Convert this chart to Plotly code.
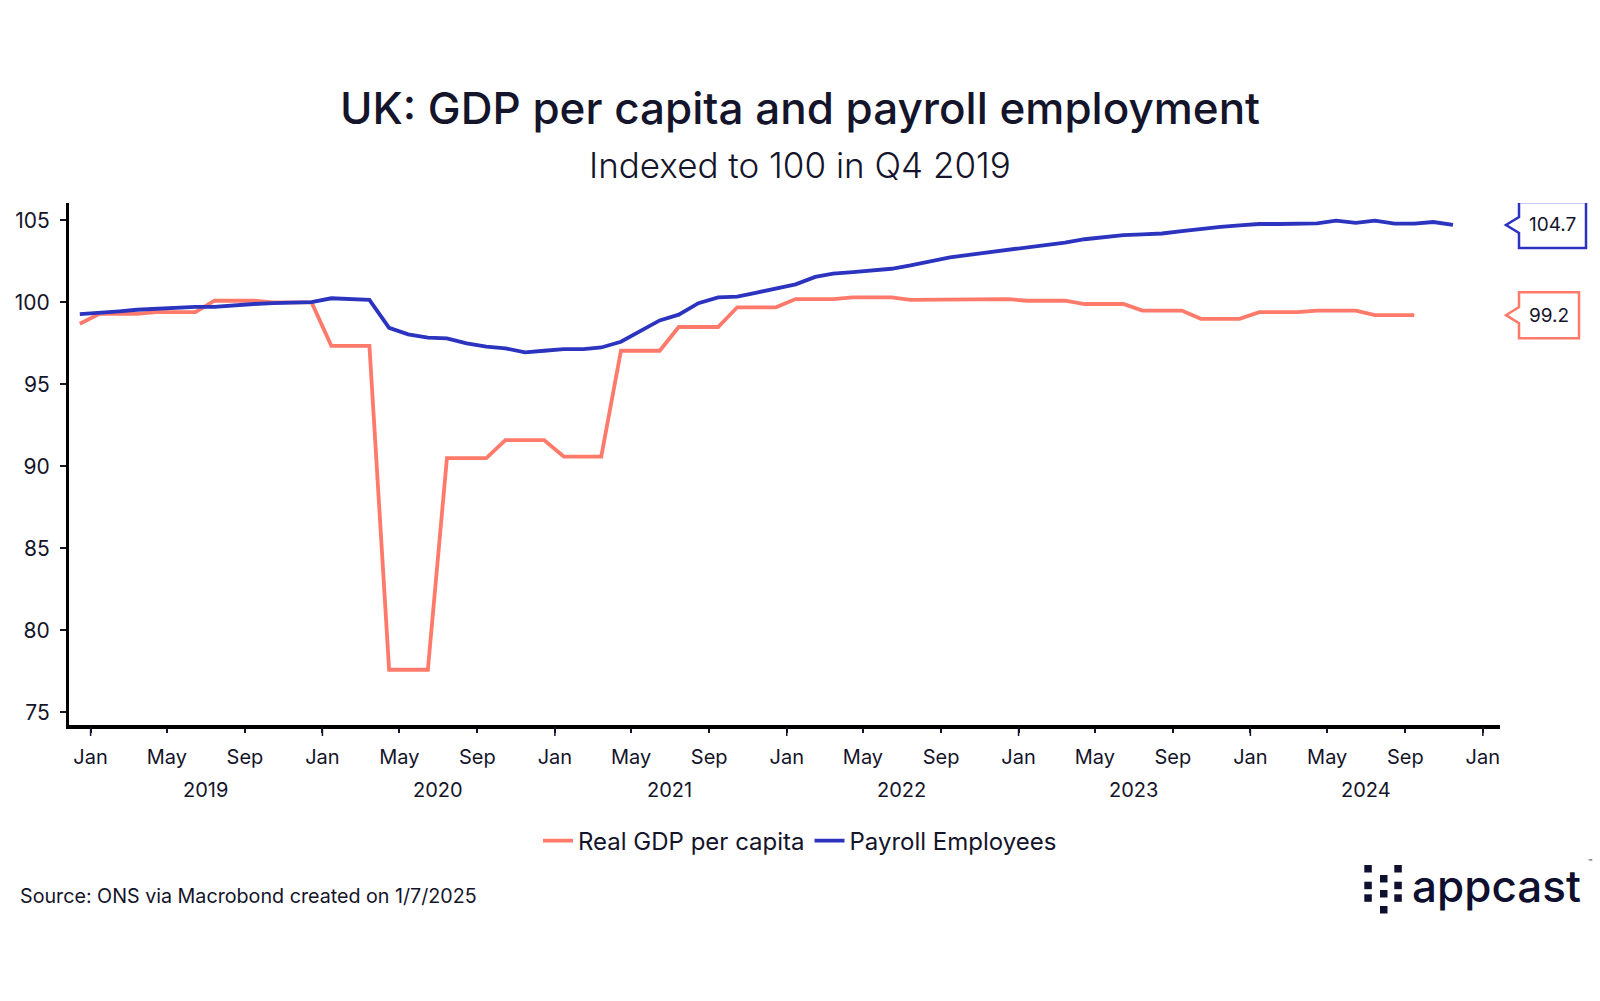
import pandas as pd
import plotly.graph_objects as go

# ---------------- data ----------------
gdp_label = "Real GDP per capita"
pay_label = "Payroll Employees"

# monthly, starting Dec 2018 (quarterly GDP values held for the three months of each quarter)
gdp_values = [
    98.7,
    99.3, 99.3, 99.3, 99.4, 99.4, 99.4, 100.1, 100.1, 100.1, 100.0, 100.0, 100.0,
    97.35, 97.35, 97.35, 77.6, 77.6, 77.6, 90.5, 90.5, 90.5, 91.6, 91.6, 91.6,
    90.6, 90.6, 90.6, 97.05, 97.05, 97.05, 98.5, 98.5, 98.5, 99.7, 99.7, 99.7,
    100.2, 100.2, 100.2, 100.3, 100.3, 100.3, 100.15, 100.15, 100.15, 100.2, 100.2, 100.2,
    100.1, 100.1, 100.1, 99.9, 99.9, 99.9, 99.5, 99.5, 99.5, 99.0, 99.0, 99.0,
    99.4, 99.4, 99.4, 99.5, 99.5, 99.5, 99.22, 99.22, 99.22,
]

payroll_values = [
    99.28,
    99.35, 99.45, 99.55, 99.62, 99.68, 99.72, 99.72, 99.82, 99.9, 99.95, 100.0, 100.02,
    100.25, 100.2, 100.15, 98.45, 98.05, 97.85, 97.8, 97.5, 97.3, 97.2, 96.95, 97.05,
    97.15, 97.15, 97.25, 97.6, 98.25, 98.9, 99.25, 99.95, 100.3, 100.35, 100.6, 100.85,
    101.1, 101.55, 101.75, 101.85, 101.95, 102.05, 102.25, 102.5, 102.75, 102.9, 103.05, 103.25,
    103.4, 103.5, 103.65, 103.85, 104.0, 104.1, 104.15, 104.2, 104.35, 104.5, 104.6, 104.7,
    104.78, 104.78, 104.8, 104.82, 104.98, 104.85, 104.98, 104.8, 104.8, 104.9, 104.72,
]

start_month = "2018-12-01"
gdp_dates = pd.date_range(start_month, periods=len(gdp_values), freq="MS") + pd.Timedelta(days=14)
payroll_dates = pd.date_range(start_month, periods=len(payroll_values), freq="MS") + pd.Timedelta(days=14)

tick_dates = pd.date_range("2019-01-01", "2025-01-01", freq="4MS")
tick_text = [d.strftime("%b") for d in tick_dates]
year_labels = ["2019", "2020", "2021", "2022", "2023", "2024"]
y_ticks = [75, 80, 85, 90, 95, 100, 105]

title_text = "UK: GDP per capita and payroll employment"
subtitle_text = "Indexed to 100 in Q4 2019"
source_text = "Source: ONS via Macrobond created on 1/7/2025"

# ---------------- style ----------------
RED = "#FF7A6A"
BLUE = "#2B33BF"
INK = "#14142B"
FONT = "Inter"

W, H = 1600, 1001
L, R, T, B = 69, 100, 203, 276
PW, PH = W - L - R, H - T - B


def px_x(px):
    return (px - L) / PW


def px_y(py):
    return (H - B - py) / PH


fig = go.Figure()
fig.add_trace(go.Scatter(x=gdp_dates, y=gdp_values, name=gdp_label, mode="lines",
                         line=dict(color=RED, width=3.8)))
fig.add_trace(go.Scatter(x=payroll_dates, y=payroll_values, name=pay_label, mode="lines",
                         line=dict(color=BLUE, width=3.8)))

fig.update_layout(
    width=W, height=H,
    margin=dict(l=L, r=R, t=T, b=B, autoexpand=False),
    paper_bgcolor="white", plot_bgcolor="white",
    font=dict(family=FONT, color=INK, size=20),
    title=dict(text=title_text, x=0.5, xref="container", xanchor="center",
               y=1 - 109 / H, yref="container", yanchor="middle",
               font=dict(family=FONT, size=44, color=INK, weight=500)),
    showlegend=True,
    legend=dict(orientation="h", xref="paper", x=px_x(800), xanchor="center",
                y=px_y(841), yanchor="middle",
                font=dict(size=24, color=INK), itemwidth=30, traceorder="normal"),
)

fig.update_xaxes(
    type="date",
    range=["2018-11-28", "2025-01-28"],
    tickvals=tick_dates, ticktext=tick_text, tickangle=0,
    ticks="outside", ticklen=4, tickwidth=1.5, tickcolor=INK,
    showline=True, linewidth=4, linecolor="black",
    showgrid=False, zeroline=False,
    ticklabelstandoff=7,
    tickfont=dict(size=20, color=INK),
)
fig.update_yaxes(
    range=[74.23, 106.06],
    tickvals=y_ticks,
    ticks="outside", ticklen=6, tickwidth=1.5, tickcolor=INK,
    showline=True, linewidth=3, linecolor="black",
    showgrid=False, zeroline=False,
    ticklabelstandoff=6,
    tickfont=dict(size=21, color=INK),
)

# long ticks at each January
for d, t in zip(tick_dates, tick_text):
    if t == "Jan":
        fig.add_shape(type="line", xref="x", yref="paper", x0=d, x1=d,
                      y0=-2 / PH, y1=-11 / PH, line=dict(color=INK, width=1.5))

annotations = []
# year labels under the month labels
for yr in year_labels:
    annotations.append(dict(x=f"{yr}-07-01", xref="x", y=px_y(790), yref="paper",
                            text=yr, showarrow=False, font=dict(size=20, color=INK),
                            xanchor="center", yanchor="middle"))

annotations.append(dict(x=px_x(800), xref="paper", y=px_y(165), yref="paper",
                        text=subtitle_text, showarrow=False,
                        font=dict(size=35, color=INK, weight=300),
                        xanchor="center", yanchor="middle"))
annotations.append(dict(x=px_x(18), xref="paper", y=px_y(896), yref="paper",
                        text=source_text, showarrow=False,
                        font=dict(size=19.7, color=INK), xanchor="left", yanchor="middle"))

# callouts with the last values
callouts = [(payroll_values[-1], BLUE, 67), (gdp_values[-1], RED, 60)]
tip_x = px_x(1506)
for val, col, bw in callouts:
    path = f"M 13,-23 L {13+bw},-23 L {13+bw},23 L 13,23 L 13,8 L 0,0 L 13,-8 Z"
    fig.add_shape(type="path", xref="paper", yref="y", xsizemode="pixel", ysizemode="pixel",
                  xanchor=tip_x, yanchor=val, path=path,
                  line=dict(color=col, width=2.5), fillcolor="white")
    annotations.append(dict(x=px_x(1506 + 13 + bw / 2), xref="paper", y=val, yref="y",
                            text=f"{val:.1f}", showarrow=False,
                            font=dict(size=19, color=INK), xanchor="center", yanchor="middle"))

# appcast logo
logo_squares = [
    (1364.3, 865), (1364.3, 881.7), (1364.3, 894.3),
    (1380, 875), (1380, 890), (1380, 906),
    (1394.3, 865), (1394.3, 881.7), (1394.3, 894.3),
]
for sx, sy in logo_squares:
    fig.add_shape(type="rect", xref="paper", yref="paper",
                  x0=px_x(sx), x1=px_x(sx + 7.5), y0=px_y(sy), y1=px_y(sy + 7.5),
                  line=dict(width=0), fillcolor="#0F1030")
annotations.append(dict(x=px_x(1410), xref="paper", y=px_y(886), yref="paper",
                        text="appcast", showarrow=False,
                        font=dict(size=44, color="#0F1030", weight=500),
                        xanchor="left", yanchor="middle"))
annotations.append(dict(x=px_x(1586), xref="paper", y=px_y(862), yref="paper",
                        text="™", showarrow=False,
                        font=dict(size=7, color="#0F1030"),
                        xanchor="left", yanchor="middle"))

fig.update_layout(annotations=annotations)

fig.write_html("out.html", config={"displayModeBar": False},
               post_script="document.body.style.margin='0';document.body.style.overflow='hidden';")
